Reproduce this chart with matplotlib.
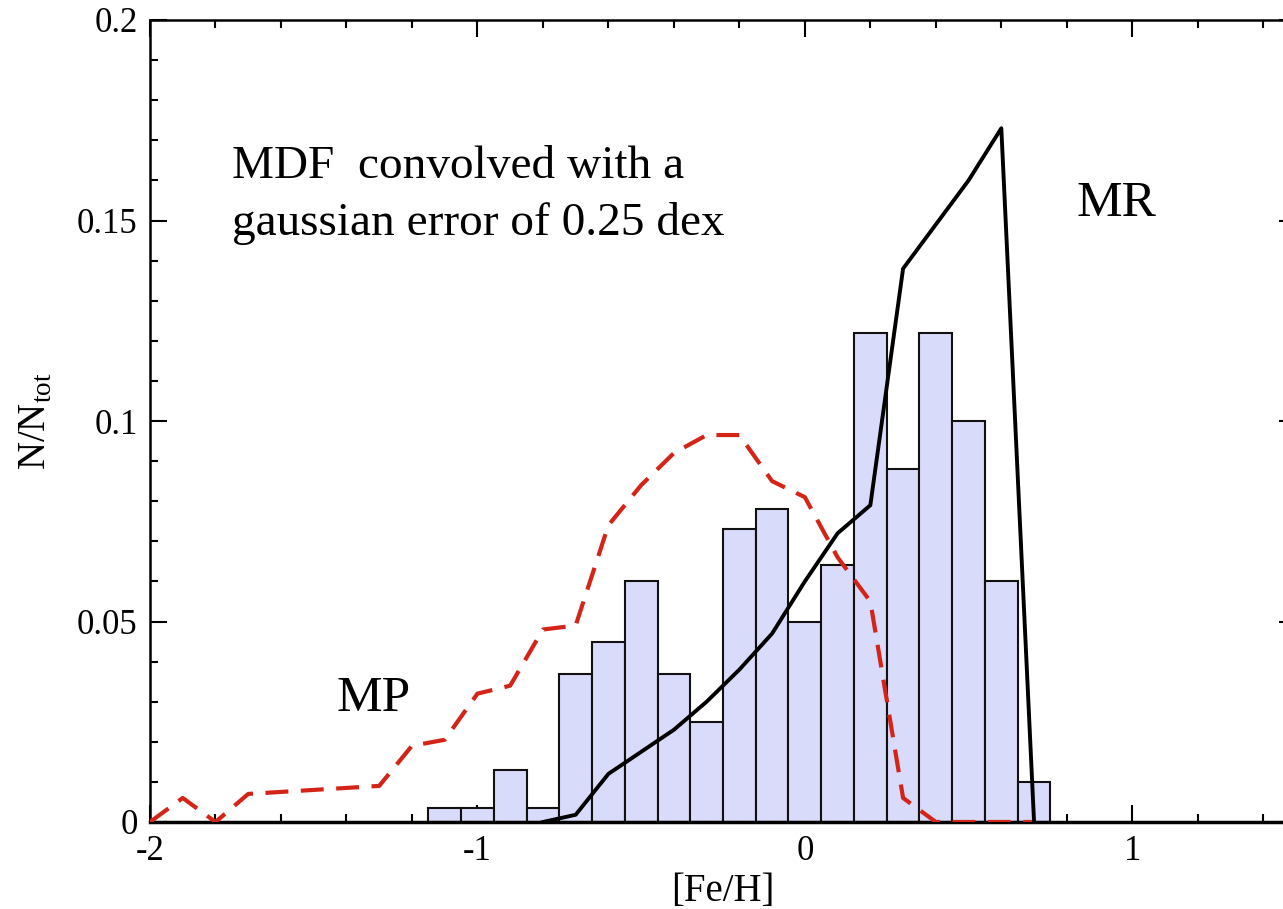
import numpy as np
import matplotlib
matplotlib.use("Agg")
import matplotlib.pyplot as plt
from matplotlib.ticker import MultipleLocator

plt.rcParams['font.family'] = ['Liberation Serif', 'DejaVu Serif']
plt.rcParams['mathtext.fontset'] = 'custom'
plt.rcParams['mathtext.rm'] = 'Liberation Serif'

# histogram of observed [Fe/H], bin width 0.1
bin_centers = [-1.1, -1.0, -0.9, -0.8, -0.7, -0.6, -0.5, -0.4, -0.3, -0.2,
               -0.1, 0.0, 0.1, 0.2, 0.3, 0.4, 0.5, 0.6, 0.7]
bin_heights = [0.0035, 0.0035, 0.013, 0.0035, 0.037, 0.045, 0.060, 0.037, 0.025, 0.073,
               0.078, 0.050, 0.064, 0.122, 0.088, 0.122, 0.100, 0.060, 0.010]
bin_width = 0.1

# metal-rich model (solid black)
mr_feh = [-0.8, -0.7, -0.6, -0.5, -0.4, -0.3, -0.2, -0.1, 0.0, 0.1, 0.2, 0.3, 0.4, 0.5, 0.6, 0.7]
mr_frac = [0.0, 0.0018, 0.012, 0.0175, 0.023, 0.030, 0.038, 0.047, 0.060, 0.072, 0.079,
           0.138, 0.149, 0.160, 0.173, 0.0]

# metal-poor model (red dashed)
mp_feh = [-2.0, -1.9, -1.8, -1.7, -1.3, -1.2, -1.1, -1.0, -0.9, -0.8, -0.7, -0.6, -0.5,
          -0.4, -0.3, -0.2, -0.1, 0.0, 0.1, 0.2, 0.3, 0.4, 0.5, 0.6, 0.7]
mp_frac = [0.0, 0.006, 0.0, 0.007, 0.009, 0.019, 0.0205, 0.032, 0.034, 0.048, 0.049, 0.074, 0.084,
           0.092, 0.0965, 0.0965, 0.085, 0.081, 0.066, 0.055, 0.006, 0.0, 0.0, 0.0, 0.0]

W, H = 1283, 909
fig = plt.figure(figsize=(W / 100, H / 100), dpi=100)
ax = fig.add_axes([150 / W, (H - 822) / H, (1296 - 150) / W, (822 - 20) / H])

ax.bar(bin_centers, bin_heights, width=bin_width, color='#d9dbfa',
       edgecolor='#111111', linewidth=1.5, zorder=2)
ax.plot(mp_feh, mp_frac, color='#d42418', linewidth=3, dashes=(5.5, 3), zorder=3)
ax.plot(mr_feh, mr_frac, color='black', linewidth=2.8, zorder=4)

ax.set_xlim(-2, 1.5)
ax.set_ylim(0, 0.2)
ax.xaxis.set_minor_locator(MultipleLocator(0.2))
ax.yaxis.set_minor_locator(MultipleLocator(0.01))
ax.set_xticks([-2, -1, 0, 1])
ax.set_xticklabels(['-2', '-1', '0', '1'])
ax.set_yticks([0, 0.05, 0.1, 0.15, 0.2])
ax.set_yticklabels(['0', '0.05', '0.1', '0.15', '0.2'])

ax.tick_params(which='both', direction='in', top=True, right=True, width=1.5,
               labelsize=25, pad=9)
ax.tick_params(which='major', length=12)
ax.tick_params(which='minor', length=6)
for s in ax.spines.values():
    s.set_linewidth(1.8)
ax.spines['bottom'].set_linewidth(2.5)

ax.set_xlabel('[Fe/H]', fontsize=28, labelpad=4)
ax.set_ylabel(r'N/N$_{\rm tot}$', fontsize=28, labelpad=16)

ax.text(-1.75, 0.1605, 'MDF  convolved with a', fontsize=34, va='baseline')
ax.text(-1.75, 0.1463, 'gaussian error of 0.25 dex', fontsize=34, va='baseline')
ax.text(0.83, 0.1510, 'MR', fontsize=37, va='baseline')
ax.text(-1.43, 0.0277, 'MP', fontsize=37, va='baseline')

fig.savefig('out.png', dpi=100)
